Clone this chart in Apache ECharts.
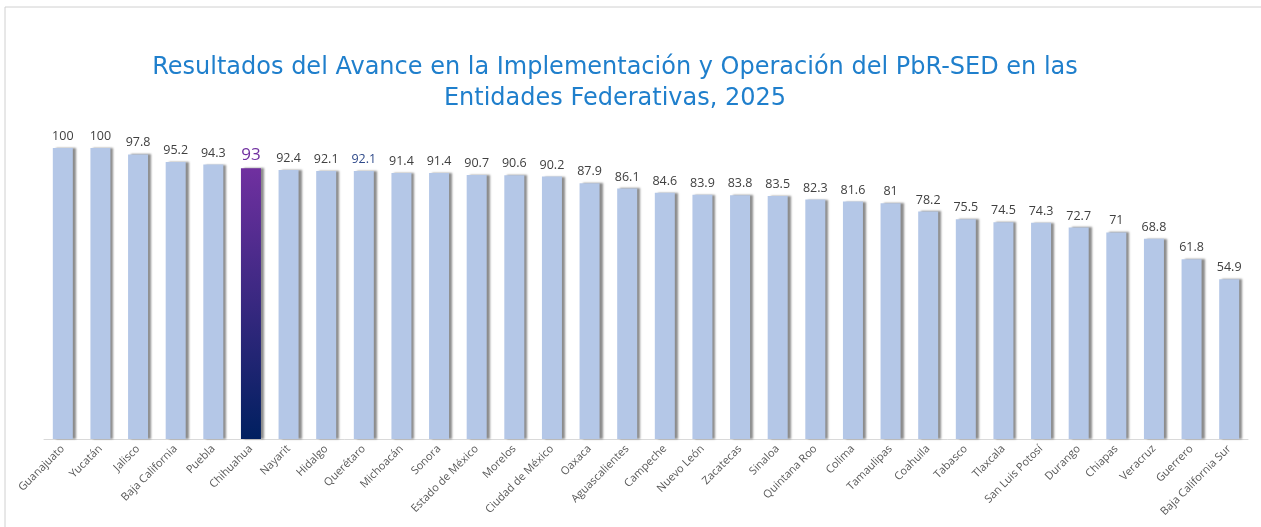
<!DOCTYPE html>
<html>
<head>
<meta charset="utf-8">
<script src="https://cdn.jsdelivr.net/npm/echarts@6/dist/echarts.min.js"></script>
<style>
  html, body { margin: 0; padding: 0; background: #fff; }
  #chart { width: 1261px; height: 527px; }
</style>
</head>
<body>
<div id="chart"></div>
<script>
// 数据
const entidades = ['Guanajuato', 'Yucatán', 'Jalisco', 'Baja California', 'Puebla', 'Chihuahua', 'Nayarit', 'Hidalgo',
    'Querétaro', 'Michoacán', 'Sonora', 'Estado de México', 'Morelos', 'Ciudad de México', 'Oaxaca', 'Aguascalientes',
    'Campeche', 'Nuevo León', 'Zacatecas', 'Sinaloa', 'Quintana Roo', 'Colima', 'Tamaulipas', 'Coahuila',
    'Tabasco', 'Tlaxcala', 'San Luis Potosí', 'Durango', 'Chiapas', 'Veracruz', 'Guerrero', 'Baja California Sur'];
const resultados = [100, 100, 97.8, 95.2, 94.3, 93, 92.4, 92.1, 92.1, 91.4, 91.4, 90.7, 90.6, 90.2, 87.9, 86.1,
    84.6, 83.9, 83.8, 83.5, 82.3, 81.6, 81, 78.2, 75.5, 74.5, 74.3, 72.7, 71, 68.8, 61.8, 54.9];
const destacado = 'Chihuahua';

const chart = echarts.init(document.getElementById('chart'));

// 逐条设置样式
const datos = resultados.map((v, i) => {
    if (entidades[i] === destacado) {
        return {
            value: v,
            itemStyle: {
                color: new echarts.graphic.LinearGradient(0, 0, 0, 1, [
                    { offset: 0, color: '#7030a0' },
                    { offset: 1, color: '#002060' }
                ])
            },
            label: { color: '#7030a0', fontSize: 17 }
        };
    }
    if (entidades[i] === 'Querétaro') {
        return { value: v, label: { color: '#2f4a8a' } };
    }
    return v;
});

chart.setOption({
    backgroundColor: '#fff',
    title: {
        text: 'Resultados del Avance en la Implementación y Operación del PbR-SED en las\nEntidades Federativas, 2025',
        left: 610,
        textAlign: 'center',
        top: 47,
        textStyle: { color: '#1f7fcc', fontSize: 24, fontWeight: 'normal', lineHeight: 31, fontFamily: '"DejaVu Sans", sans-serif' }
    },
    graphic: [{
        type: 'polyline',
        shape: { points: [[5, 527], [5, 7], [1261, 7]] },
        style: { stroke: '#d0d0d0', lineWidth: 1, fill: null }
    }],
    grid: { left: 44, right: 13, top: 148, bottom: 88 },
    xAxis: {
        type: 'category',
        data: entidades,
        axisLine: { lineStyle: { color: '#d9d9d9', width: 1 } },
        axisTick: { show: false },
        axisLabel: { rotate: 45, interval: 0, color: '#595959', fontSize: 11, margin: 8, fontFamily: '"Open Sans", sans-serif' }
    },
    yAxis: {
        type: 'value',
        min: 0,
        max: 100,
        show: false
    },
    series: [{
        type: 'bar',
        data: datos,
        barWidth: 20,
        itemStyle: {
            color: '#b4c7e7',
            shadowColor: 'rgba(0,0,0,0.45)',
            shadowBlur: 2,
            shadowOffsetX: 3
        },
        label: {
            show: true,
            position: 'top',
            distance: 5,
            color: '#404040',
            fontSize: 12.5,
            fontFamily: '"Open Sans", sans-serif'
        }
    }]
});
</script>
</body>
</html>
